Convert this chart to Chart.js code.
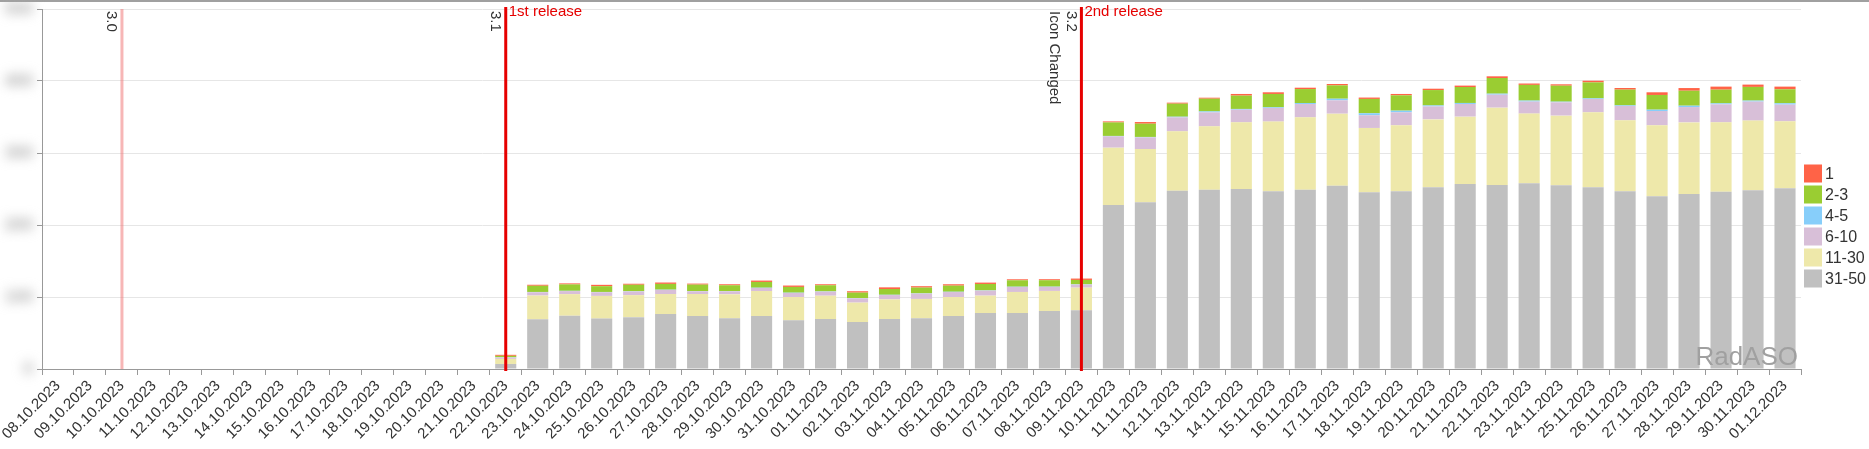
<!DOCTYPE html>
<html>
<head>
<meta charset="utf-8">
<script src="https://cdn.jsdelivr.net/npm/chart.js@4/dist/chart.umd.min.js"></script>
<style>
    html, body { margin: 0; padding: 0; background: #fff; }
    #wrap { width: 1869px; height: 449px; position: relative; }
</style>
</head>
<body>
<div id="wrap"><canvas id="chart" width="1869" height="449"></canvas></div>
<script>
// --- DATOS ---
const days = [
    '08.10.2023', '09.10.2023', '10.10.2023', '11.10.2023', '12.10.2023', '13.10.2023', '14.10.2023',
    '15.10.2023', '16.10.2023', '17.10.2023', '18.10.2023', '19.10.2023', '20.10.2023', '21.10.2023',
    '22.10.2023', '23.10.2023', '24.10.2023', '25.10.2023', '26.10.2023', '27.10.2023', '28.10.2023',
    '29.10.2023', '30.10.2023', '31.10.2023', '01.11.2023', '02.11.2023', '03.11.2023', '04.11.2023',
    '05.11.2023', '06.11.2023', '07.11.2023', '08.11.2023', '09.11.2023', '10.11.2023', '11.11.2023',
    '12.11.2023', '13.11.2023', '14.11.2023', '15.11.2023', '16.11.2023', '17.11.2023', '18.11.2023',
    '19.11.2023', '20.11.2023', '21.11.2023', '22.11.2023', '23.11.2023', '24.11.2023', '25.11.2023',
    '26.11.2023', '27.11.2023', '28.11.2023', '29.11.2023', '30.11.2023', '01.12.2023'
];

// posiciones 31-50 (abajo) ... 1 (arriba)
const pos31_50 = [
    0, 0, 0, 0, 0, 0, 0, 0, 0, 0, 0, 0, 0, 0,
    7, 69, 74, 70, 72, 76.4, 73.6, 70.4, 73.6, 67.6, 69.4, 65.3, 69.4, 70.4, 73.6, 77.8, 77.8, 80.6, 81.5,
    227.8, 231.5, 247.7, 249, 250, 246.8, 249, 254.6, 245.4, 246.8, 252.3,
    257, 255.6, 257.9, 255.1, 252.3, 246.8, 239.8, 243, 246.3, 248.2, 251
];
const pos11_30 = [
    0, 0, 0, 0, 0, 0, 0, 0, 0, 0, 0, 0, 0, 0,
    7, 33, 30, 31.5, 30.6, 27.8, 30.6, 33.3, 34.7, 32.4, 32.4, 26.9, 27.3, 26.9, 26.4, 24.1, 29.2, 27.8, 31.5,
    79.6, 74, 82.4, 88, 92.6, 96.8, 100.5, 100, 89.4, 91.7, 94.4,
    93.5, 107.4, 96.8, 96.8, 104.2, 98.6, 98.6, 99.5, 96.3, 96.8, 93
];
const pos6_10 = [
    0, 0, 0, 0, 0, 0, 0, 0, 0, 0, 0, 0, 0, 0,
    2, 4.6, 4.2, 5.1, 5.1, 5.6, 3.7, 4.2, 4.2, 5.6, 5.6, 6, 6, 7.4, 6.9, 6.9, 6.9, 5.6, 4.2,
    15.7, 16.2, 19.4, 19.4, 17.6, 19, 18.5, 18.5, 17.6, 18, 18,
    17.6, 18, 16.7, 18.5, 18.5, 19.9, 19.9, 21.3, 25, 26.4, 23.2
];
const pos4_5 = [
    0, 0, 0, 0, 0, 0, 0, 0, 0, 0, 0, 0, 0, 0,
    0.3, 0.4, 0.4, 0.4, 0.4, 0.4, 0.4, 0.4, 0.4, 0.4, 0.4, 0.4, 0.4, 0.4, 0.4, 0.4, 0.4, 0.4, 0.4,
    0.6, 0.6, 0.9, 1.4, 1, 1, 1.4, 2.3, 2.8, 2.3, 1.4,
    1.4, 1.4, 1.4, 0.9, 0.9, 0.9, 1.9, 1.9, 1.4, 1.4, 1.9
];
const pos2_3 = [
    0, 0, 0, 0, 0, 0, 0, 0, 0, 0, 0, 0, 0, 0,
    2, 8.6, 8.9, 8, 8.9, 8, 8.9, 8, 8, 8, 8.5, 7.5, 8, 8, 8.5, 8.9, 8.9, 8.9, 6.1,
    18.8, 18.4, 18.1, 17.6, 18.5, 18.4, 19.4, 18.5, 19.9, 21.3, 21.3,
    22.2, 21.8, 21.8, 22.2, 22.2, 21.8, 20.4, 20.8, 19, 19, 19.4
];
const pos1 = [
    0, 0, 0, 0, 0, 0, 0, 0, 0, 0, 0, 0, 0, 0,
    1.4, 1.4, 1.4, 1.9, 1.4, 1.9, 1.4, 1.4, 1.9, 1.9, 1.4, 1.9, 2.3, 1.9, 1.9, 1.9, 1.4, 1.4, 1.9,
    1.4, 2.3, 1.4, 1.4, 2.3, 2.3, 1.9, 1.9, 1.9, 1.9, 1.9,
    1.9, 2.3, 1.9, 1.9, 2.3, 2.3, 3.7, 3.7, 4.2, 3.2, 3.7
];

const yTicks = [0, 100, 200, 300, 400, 500];

// versiones
const releaseDays = ['10.10.2023', '22.10.2023', '09.11.2023'];
const releaseTags = [['3.0'], ['3.1'], ['3.2', 'Icon Changed']];
const releaseTitles = ['', '1st release', '2nd release'];

const FONT = '"Liberation Sans", Arial, sans-serif';

// --- PLUGIN: líneas de versión, marca de agua, leyenda ---
const overlay = {
    id: 'overlay',
    afterDatasetsDraw(chart) {
        const { ctx, chartArea: a, scales: { x } } = chart;
        ctx.save();

        // marca de agua
        ctx.font = '26px ' + FONT;
        ctx.fillStyle = '#a0a0a0';
        ctx.textAlign = 'right';
        ctx.textBaseline = 'alphabetic';
        ctx.fillText('RadASO', a.right - 3, a.bottom - 4);

        releaseDays.forEach((d, i) => {
            const px = x.getPixelForValue(days.indexOf(d));
            ctx.strokeStyle = i === 0 ? 'rgba(240, 110, 110, 0.5)' : '#e60000';
            ctx.lineWidth = 3;
            ctx.beginPath();
            ctx.moveTo(px, a.top - (i === 0 ? 0 : 2));
            ctx.lineTo(px, a.bottom + (i === 0 ? 0 : 2));
            ctx.stroke();

            // etiqueta vertical
            ctx.save();
            ctx.translate(px - 3, a.top + 2);
            ctx.rotate(Math.PI / 2);
            ctx.font = '15px ' + FONT;
            ctx.fillStyle = '#333';
            ctx.textAlign = 'left';
            ctx.textBaseline = 'top';
            releaseTags[i].forEach((t, k) => ctx.fillText(t, 0, k * 17));
            ctx.restore();

            if (releaseTitles[i]) {
                ctx.font = '15px ' + FONT;
                ctx.fillStyle = '#e60000';
                ctx.textAlign = 'left';
                ctx.textBaseline = 'top';
                ctx.fillText(releaseTitles[i], px + 3, a.top - 5);
            }
        });
        ctx.restore();
    },
    afterDraw(chart) {
        const { ctx, chartArea: a, scales: { y } } = chart;
        ctx.save();
        // borde superior
        ctx.fillStyle = '#a0a0a0';
        ctx.fillRect(0, 0, chart.width, 2);

        // leyenda (de arriba a abajo: 1 ... 31-50)
        const sets = chart.data.datasets.slice().reverse();
        const step = 21;
        let top = chart.height / 2 - (sets.length * step) / 2 + 3;
        ctx.font = '16px ' + FONT;
        ctx.textAlign = 'left';
        ctx.textBaseline = 'middle';
        sets.forEach((ds, i) => {
            const by = top + i * step;
            ctx.fillStyle = ds.backgroundColor;
            ctx.fillRect(a.right + 3, by, 18, 18);
            ctx.fillStyle = '#333';
            ctx.fillText(ds.label, a.right + 24, by + 10);
        });

        // etiquetas del eje Y difuminadas
        ctx.filter = 'blur(6px)';
        ctx.font = 'bold 17px ' + FONT;
        ctx.fillStyle = '#a8a8a8';
        ctx.textAlign = 'right';
        ctx.textBaseline = 'middle';
        yTicks.forEach(v => ctx.fillText(String(v), 33, y.getPixelForValue(v)));
        ctx.restore();
    }
};

function makeSet(label, data, color) {
    return { label, data, backgroundColor: color, borderWidth: 0, barPercentage: 0.66, categoryPercentage: 1.0 };
}

const chart = new Chart(document.getElementById('chart').getContext('2d'), {
    type: 'bar',
    data: {
        labels: days,
        datasets: [
            makeSet('31-50', pos31_50, '#c0c0c0'),
            makeSet('11-30', pos11_30, '#eee8aa'),
            makeSet('6-10', pos6_10, '#d8bfd8'),
            makeSet('4-5', pos4_5, '#87cefa'),
            makeSet('2-3', pos2_3, '#9acd32'),
            makeSet('1', pos1, '#ff6347')
        ]
    },
    options: {
        responsive: false,
        devicePixelRatio: 1,
        animation: false,
        layout: { padding: { top: 9, left: 0, right: 68, bottom: 0 } },
        plugins: {
            tooltip: { enabled: false },
            legend: { display: false }
        },
        scales: {
            x: {
                stacked: true,
                grid: { display: true, drawOnChartArea: false, drawTicks: true, tickLength: 6, tickColor: '#999', offset: true },
                border: { color: '#999' },
                ticks: { autoSkip: false, minRotation: 45, maxRotation: 45, padding: 2, color: '#333', font: { size: 15, family: FONT } },
                afterFit: s => { s.height = 80; }
            },
            y: {
                stacked: true,
                min: 0,
                max: 500,
                ticks: { stepSize: 100, display: false },
                grid: { color: '#e6e6e6', tickLength: 5, tickColor: '#999' },
                border: { color: '#999' },
                afterFit: s => { s.width = 42; }
            }
        }
    },
    plugins: [overlay]
});
</script>
</body>
</html>
